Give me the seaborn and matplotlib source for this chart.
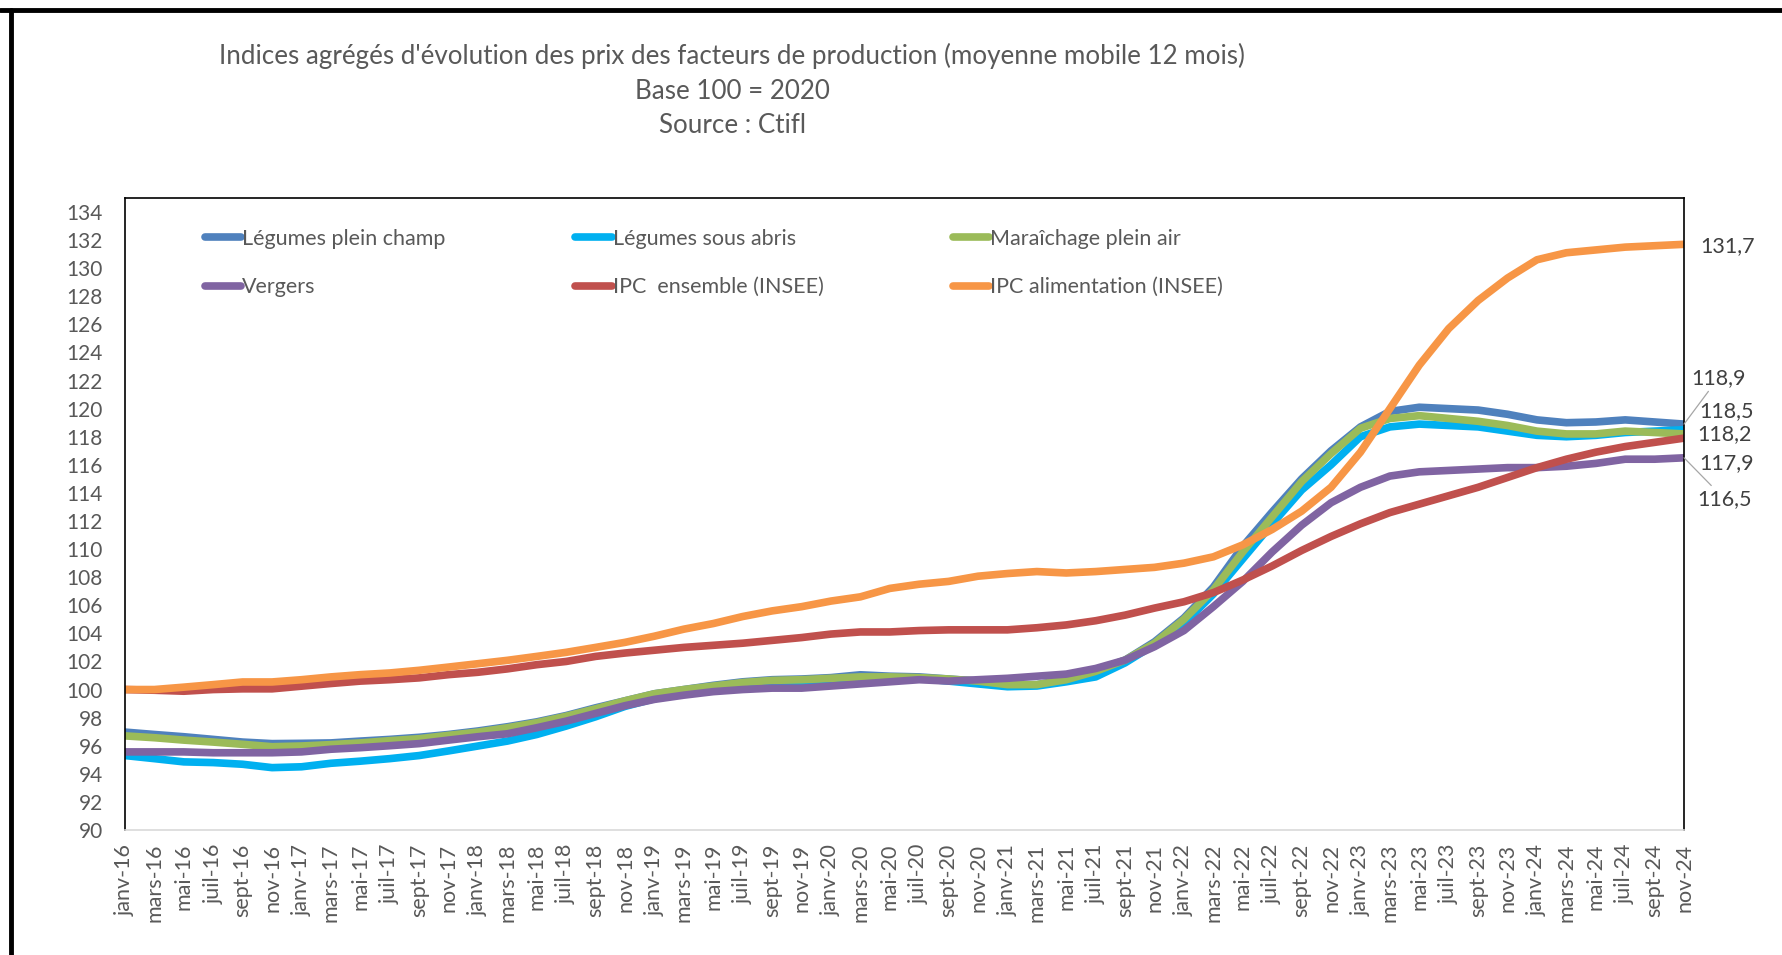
import numpy as np
import pandas as pd
import matplotlib.pyplot as plt
from matplotlib.lines import Line2D
import seaborn as sns

# axe des x : un point tous les deux mois, de janv-16 à nov-24
mois = ["janv", "mars", "mai", "juil", "sept", "nov"]
annees = ["16", "17", "18", "19", "20", "21", "22", "23", "24"]
etiquettes = [m + "-" + a for a in annees for m in mois]

lpc = [96.97, 96.8, 96.64, 96.45, 96.26, 96.15, 96.17, 96.2, 96.33, 96.45, 96.6, 96.8,
       97.05, 97.35, 97.7, 98.15, 98.7, 99.2, 99.7, 100.0, 100.3, 100.55, 100.7, 100.75,
       100.85, 101.05, 100.95, 100.9, 100.75, 100.6, 100.35, 100.35, 100.7, 101.3, 102.1, 103.4,
       105.1, 107.3, 110.2, 112.65, 115.0, 117.0, 118.7, 119.8, 120.1, 120.0, 119.9, 119.6,
       119.2, 119.0, 119.05, 119.2, 119.05, 118.9]
lsa = [95.3, 95.08, 94.85, 94.8, 94.68, 94.44, 94.5, 94.75, 94.9, 95.08, 95.3, 95.63,
       95.98, 96.33, 96.8, 97.4, 98.06, 98.8, 99.35, 99.75, 100.0, 100.3, 100.45, 100.5,
       100.65, 100.8, 100.85, 100.8, 100.6, 100.4, 100.2, 100.25, 100.55, 100.9, 101.9, 103.2,
       104.7, 106.8, 109.3, 111.8, 114.2, 116.0, 118.0, 118.7, 118.9, 118.8, 118.7, 118.4,
       118.1, 118.0, 118.1, 118.3, 118.4, 118.5]
mar = [96.7, 96.57, 96.4, 96.26, 96.1, 95.93, 95.98, 96.08, 96.2, 96.36, 96.5, 96.74,
       96.97, 97.28, 97.64, 98.1, 98.63, 99.2, 99.7, 100.0, 100.25, 100.5, 100.65, 100.7,
       100.8, 100.9, 100.9, 100.85, 100.75, 100.6, 100.35, 100.35, 100.7, 101.3, 102.1, 103.3,
       105.0, 107.1, 109.8, 112.3, 114.8, 116.8, 118.6, 119.3, 119.5, 119.3, 119.1, 118.8,
       118.4, 118.2, 118.2, 118.4, 118.3, 118.2]
vergers = [95.56, 95.56, 95.56, 95.5, 95.5, 95.5, 95.56, 95.75, 95.86, 96.0, 96.15, 96.4,
           96.64, 96.85, 97.28, 97.75, 98.3, 98.85, 99.3, 99.6, 99.85, 100.0, 100.1, 100.1,
           100.25, 100.4, 100.55, 100.7, 100.6, 100.7, 100.8, 100.95, 101.1, 101.5, 102.1, 103.05,
           104.2, 105.9, 107.7, 109.8, 111.7, 113.3, 114.4, 115.2, 115.5, 115.6, 115.7, 115.8,
           115.8, 115.9, 116.1, 116.4, 116.4, 116.5]
ipc_ens = [100.0, 99.95, 99.88, 100.0, 100.05, 100.05, 100.24, 100.43, 100.6, 100.7, 100.83, 101.06,
           101.23, 101.47, 101.77, 102.0, 102.36, 102.6, 102.8, 103.0, 103.15, 103.3, 103.5, 103.7,
           103.95, 104.1, 104.1, 104.2, 104.25, 104.25, 104.25, 104.4, 104.6, 104.9, 105.3, 105.8,
           106.25, 106.9, 107.8, 108.8, 109.9, 110.9, 111.8, 112.6, 113.2, 113.8, 114.4, 115.1,
           115.8, 116.4, 116.9, 117.3, 117.6, 117.9]
ipc_alim = [100.0, 100.0, 100.17, 100.35, 100.54, 100.54, 100.7, 100.9, 101.06, 101.18, 101.37, 101.6,
            101.84, 102.08, 102.36, 102.65, 103.0, 103.36, 103.8, 104.3, 104.7, 105.2, 105.6, 105.9,
            106.3, 106.6, 107.2, 107.5, 107.7, 108.07, 108.26, 108.4, 108.3, 108.4, 108.55, 108.7,
            109.0, 109.45, 110.3, 111.4, 112.7, 114.4, 116.9, 120.0, 123.1, 125.7, 127.7, 129.3,
            130.6, 131.1, 131.3, 131.5, 131.6, 131.7]

noms = ["Légumes plein champ", "Légumes sous abris", "Maraîchage plein air",
        "Vergers", "IPC  ensemble (INSEE)", "IPC alimentation (INSEE)"]
couleurs = ["#4F81BD", "#00B0F0", "#9BBB59", "#8064A2", "#C0504D", "#F79646"]
series = [lpc, lsa, mar, vergers, ipc_ens, ipc_alim]
valeurs_fin = ["118,9", "118,5", "118,2", "116,5", "117,9", "131,7"]

x = np.arange(0, 2 * len(etiquettes), 2)
df = pd.concat([pd.DataFrame({"mois": x, "indice": s, "serie": n})
                for n, s in zip(noms, series)], ignore_index=True)

sns.set_theme(style="white")
plt.rcParams["font.family"] = ["Lato", "DejaVu Sans"]
gris = "#595959"

fig = plt.figure(figsize=(17.83, 9.55), dpi=100)
ax = fig.add_axes([0.0701, 0.1309, 0.8744, 0.6618])

sns.lineplot(data=df, x="mois", y="indice", hue="serie", hue_order=noms,
             palette=couleurs, linewidth=5.5, solid_capstyle="round", ax=ax)

ax.set_xlim(0, 106)
ax.set_ylim(90, 135)
ax.set_yticks(range(90, 135, 2))
ax.set_xticks(x)
ax.set_xticklabels(etiquettes, rotation=90)
ax.set_xlabel("")
ax.set_ylabel("")
ax.tick_params(axis="y", length=0, labelsize=15, labelcolor=gris, pad=16)
ax.tick_params(axis="x", length=7, width=1, color="#d9d9d9", direction="out",
               labelsize=15.5, labelcolor=gris, pad=3)
for cote in ["left", "top", "right"]:
    ax.spines[cote].set_color("black")
    ax.spines[cote].set_linewidth(1.2)
ax.spines["bottom"].set_color("#d9d9d9")
ax.spines["bottom"].set_linewidth(1.2)

# légende sur deux lignes, trois colonnes (ordre par ligne)
h, l = ax.get_legend_handles_labels()
ordre = [0, 3, 1, 4, 2, 5]
ax.legend([h[i] for i in ordre], [l[i] for i in ordre], ncol=3, frameon=False,
          loc="upper left", bbox_to_anchor=(0.1088, 0.772), bbox_transform=fig.transFigure,
          fontsize=15.5, labelcolor=gris, handlelength=1.7, handletextpad=0.05,
          columnspacing=6.0, labelspacing=1.33, borderpad=0)

# étiquettes de fin de courbe
decalages = [(7, 46), (15, 19), (13, 0), (13, -41), (15, -25), (16, -2)]
for s, v, d, i in zip(series, valeurs_fin, decalages, range(6)):
    fleche = None
    if i in (0, 3):
        fleche = dict(arrowstyle="-", color="#a6a6a6", lw=0.9, shrinkA=0, shrinkB=0)
    ax.annotate(v, xy=(x[-1], s[-1]), xytext=d, textcoords="offset pixels",
                ha="left", va="center", fontsize=15.5, color="#404040",
                annotation_clip=False, arrowprops=fleche)

titre = ["Indices agrégés d'évolution des prix des facteurs de production (moyenne mobile 12 mois)",
         "Base 100 = 2020", "Source : Ctifl"]
for t, yy in zip(titre, [0.9415, 0.9047, 0.869]):
    fig.text(0.4107, yy, t, ha="center", va="center", fontsize=18.7, color=gris)

# bordure de la feuille
fig.add_artist(Line2D([0, 1], [0.9895, 0.9895], transform=fig.transFigure, color="black", lw=3.5))
fig.add_artist(Line2D([0.0062, 0.0062], [0, 0.9895], transform=fig.transFigure, color="black", lw=3.5))

fig.savefig("out.png", dpi=100)
